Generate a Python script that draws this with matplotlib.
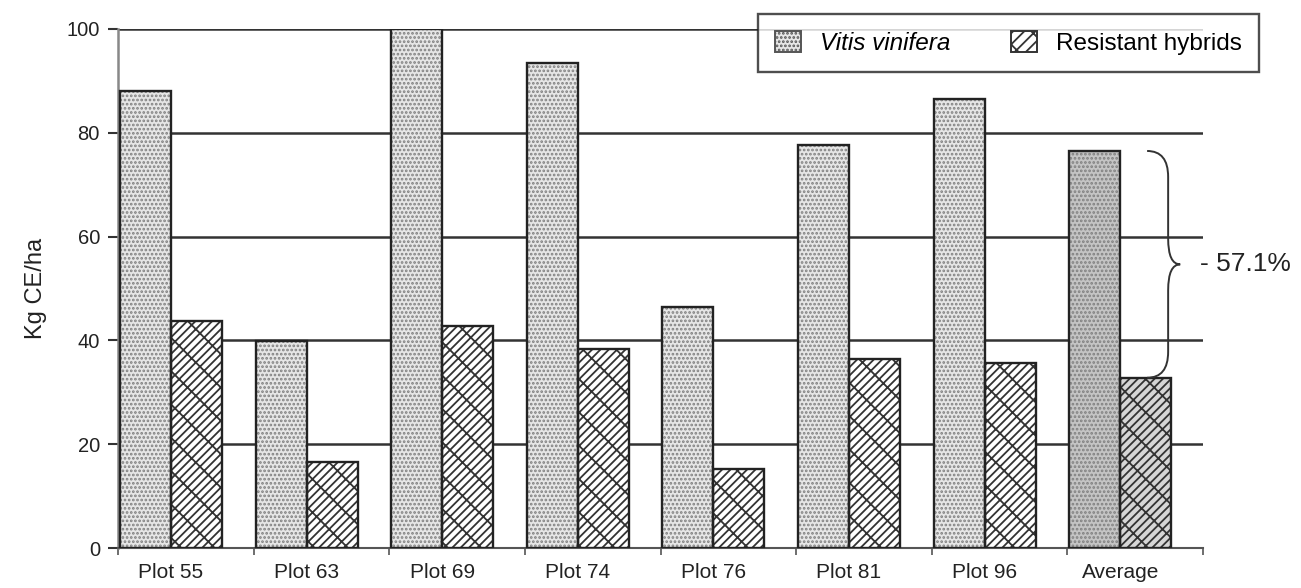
import matplotlib
matplotlib.use("Agg")
import matplotlib.pyplot as plt
import numpy as np
from matplotlib.path import Path
from matplotlib.patches import PathPatch, Patch

categories = ["Plot 55", "Plot 63", "Plot 69", "Plot 74", "Plot 76", "Plot 81", "Plot 96", "Average"]
vinifera = [88.0, 39.8, 100.0, 93.4, 46.4, 77.6, 86.5, 76.5]
hybrids = [43.7, 16.6, 42.8, 38.3, 15.2, 36.4, 35.6, 32.8]
reduction_label = "- 57.1%"
yticks = [0, 20, 40, 60, 80, 100]

plt.rcParams['font.family'] = ['Liberation Sans', 'DejaVu Sans']
plt.rcParams['hatch.linewidth'] = 1.3

fig = plt.figure(figsize=(13.01, 5.88), dpi=100)
ax = fig.add_axes([118/1301, 40/588, (1203-118)/1301, (548-29)/588])

x = np.arange(len(categories))
w = 0.376
dark = '#222222'

for i in range(len(categories)):
    avg = (i == len(categories) - 1)
    fc_v = '#c4c4c4' if avg else '#e6e6e6'
    fc_h = '#d6d6d6' if avg else 'white'
    ax.bar(x[i] - w/2, vinifera[i], w, facecolor=fc_v, edgecolor='#808080',
           hatch='....', linewidth=0, zorder=3)
    ax.bar(x[i] - w/2, vinifera[i], w, fill=False, edgecolor=dark, linewidth=1.7, zorder=4)
    ax.bar(x[i] + w/2, hybrids[i], w, facecolor=fc_h, edgecolor='#333333',
           hatch='////\\', linewidth=0, zorder=3)
    ax.bar(x[i] + w/2, hybrids[i], w, fill=False, edgecolor=dark, linewidth=1.7, zorder=4)

ax.set_xlim(-0.39, 7.61)
ax.set_ylim(0, 100)
for yv in yticks[1:]:
    ax.axhline(yv, color='#333333', linewidth=1.8, zorder=1)

ax.set_yticks(yticks)
ax.set_yticklabels([str(v) for v in yticks], fontsize=14.5, color=dark)
ax.set_xticks(x)
ax.set_xticklabels(categories, fontsize=15, color=dark)
ax.tick_params(axis='x', which='major', length=0, pad=11)
ax.set_xticks(np.arange(-0.39, 7.62, 1.0), minor=True)
ax.tick_params(axis='x', which='minor', length=5, width=1.2, color='#555555', direction='out')
ax.tick_params(axis='y', length=7, width=1.5, color='#333333', direction='out', pad=6)

for s in ['top', 'right']:
    ax.spines[s].set_visible(False)
ax.spines['left'].set_color('#888888')
ax.spines['left'].set_linewidth(1.8)
ax.spines['bottom'].set_color('#555555')
ax.spines['bottom'].set_linewidth(1.5)

ax.set_ylabel("Kg CE/ha", fontsize=17, color=dark, labelpad=14)

# brace
top = vinifera[-1]
bot = hybrids[-1]
mid = (top + bot) / 2
x0, xv, xt = 7.198, 7.353, 7.442
r = 5.0
verts = [(x0, top), (xv, top), (xv, top - r), (xv, mid + r), (xv, mid), (xt, mid),
         (xt, mid), (xv, mid), (xv, mid - r), (xv, bot + r), (xv, bot), (x0, bot)]
codes = [Path.MOVETO, Path.CURVE3, Path.CURVE3, Path.LINETO, Path.CURVE3, Path.CURVE3,
         Path.MOVETO, Path.CURVE3, Path.CURVE3, Path.LINETO, Path.CURVE3, Path.CURVE3]
ax.add_patch(PathPatch(Path(verts, codes), fill=False, edgecolor='#333333',
                       linewidth=1.4, clip_on=False, zorder=5))
ax.text(7.59, mid, reduction_label, fontsize=19, color=dark, va='center', ha='left',
        clip_on=False)

# legend
h1 = Patch(facecolor='#e6e6e6', edgecolor='#555555', hatch='....', linewidth=1.4)
h2 = Patch(facecolor='white', edgecolor='#333333', hatch='///\\', linewidth=1.4)
leg = fig.legend([h1, h2], ["Vitis vinifera", "Resistant hybrids"], ncol=2,
                 loc='upper left', bbox_to_anchor=(758/1301, 1 - 14/588),
                 fontsize=17.5, frameon=True, fancybox=False, edgecolor=dark,
                 handlelength=1.05, handleheight=0.95, columnspacing=2.5,
                 borderpad=0.7, handletextpad=0.8, borderaxespad=0)
leg.get_frame().set_linewidth(1.7)
leg.get_texts()[0].set_fontstyle('italic')

fig.savefig("out.png", dpi=100)
